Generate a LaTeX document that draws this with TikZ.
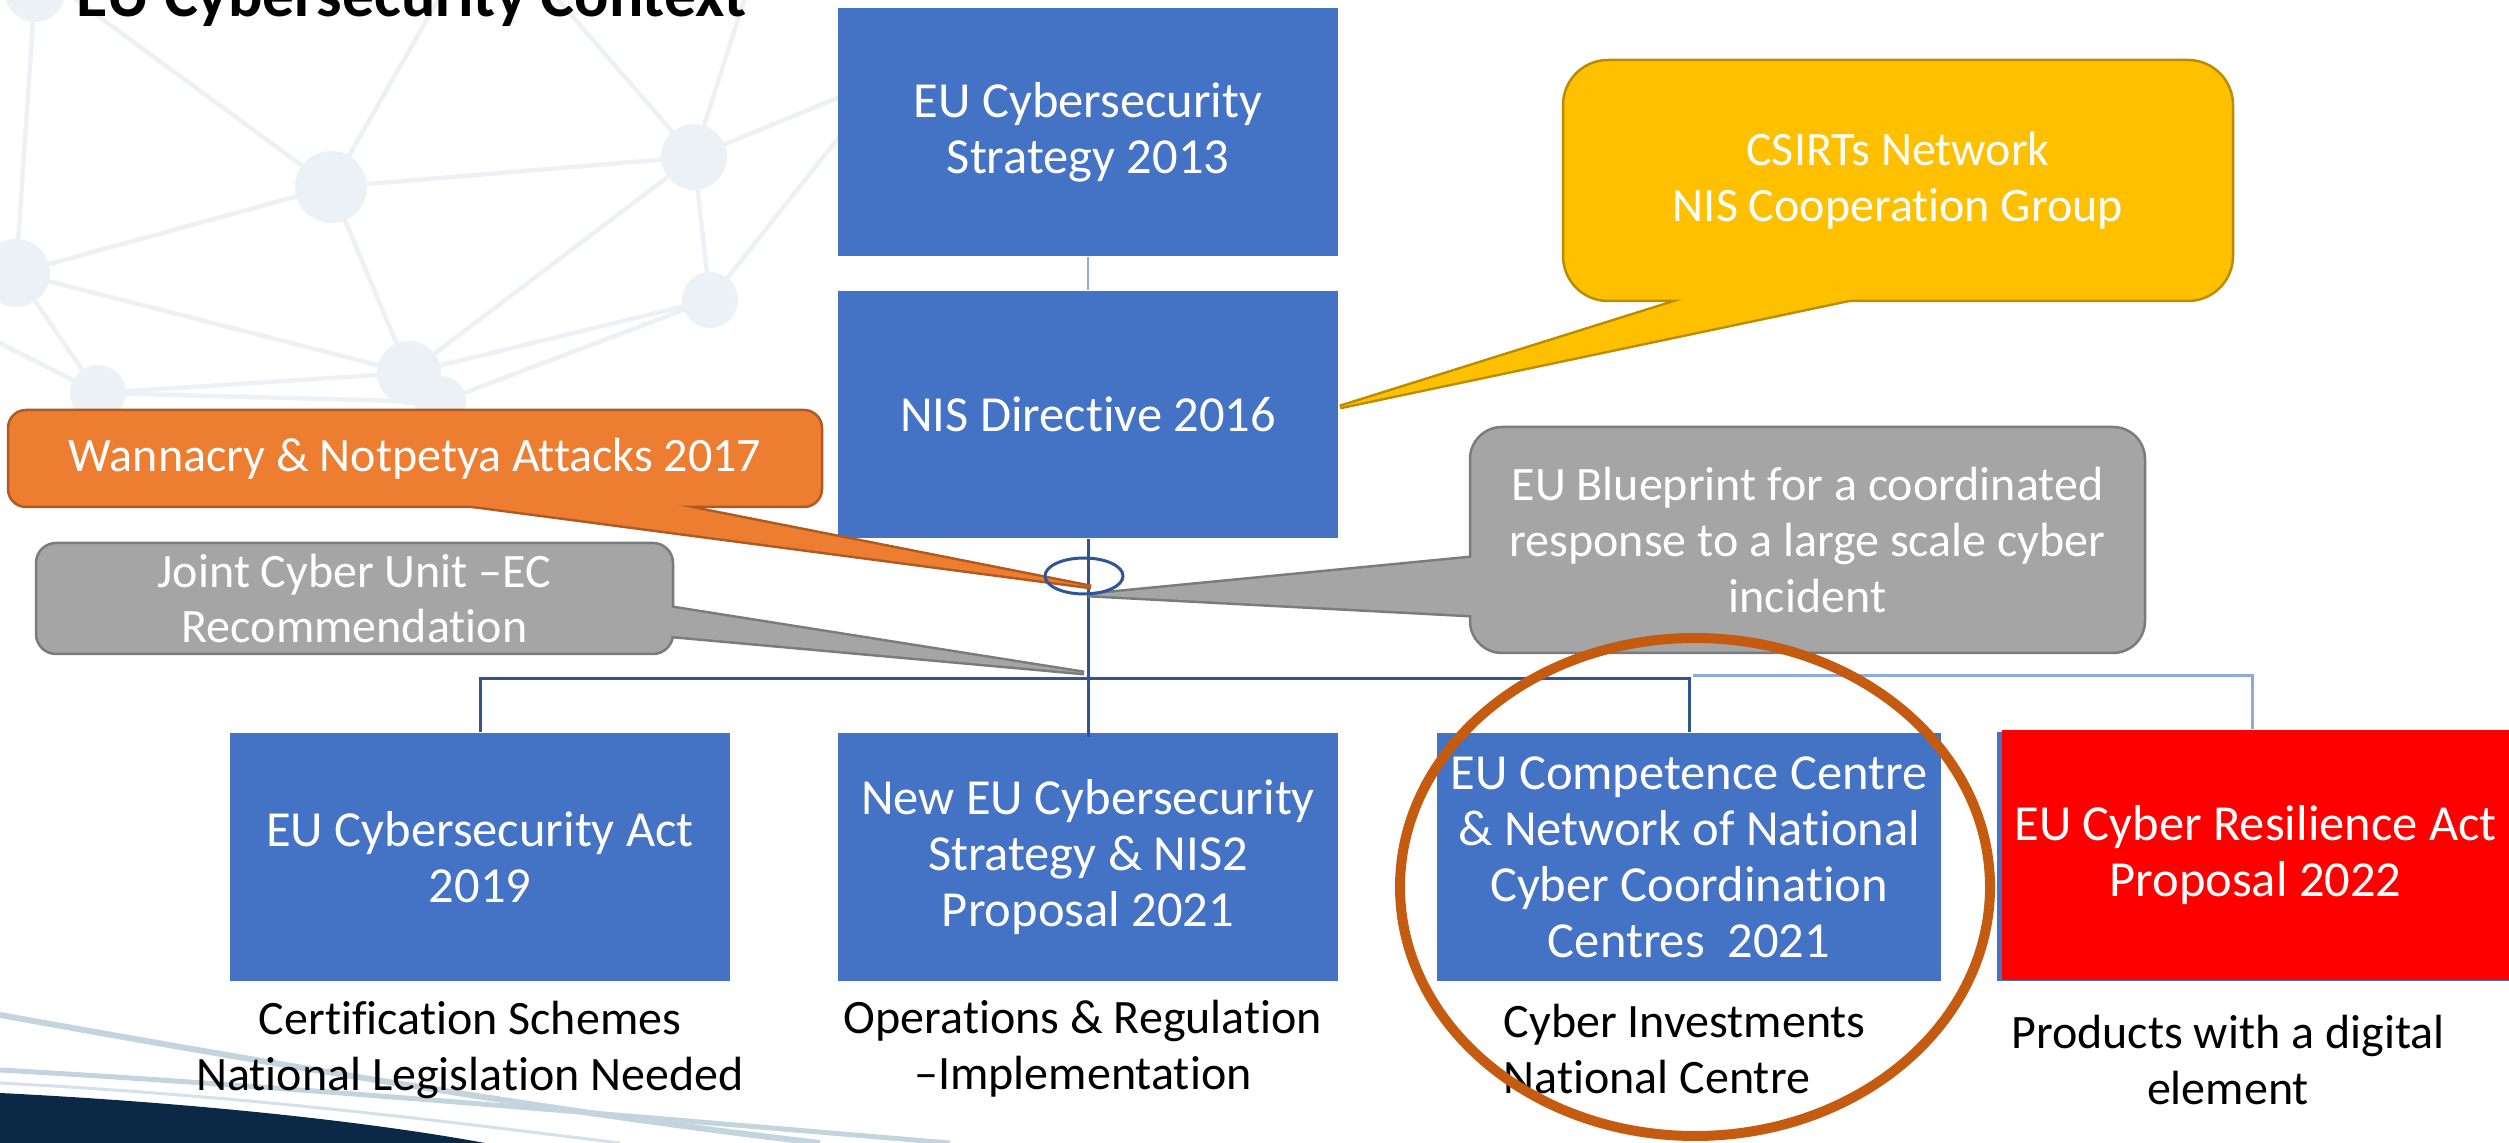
\documentclass[tikz,border=0pt]{standalone}
\usepackage{fontspec}
\setmainfont{Carlito}[Ligatures=NoCommon]
\usetikzlibrary{calc}
\definecolor{boxblue}{HTML}{4472C4}
\definecolor{lineblue}{HTML}{2F5597}
\definecolor{lightline}{HTML}{8FAADC}
\definecolor{orangeF}{HTML}{ED7D31}
\definecolor{orangeD}{HTML}{AE5A21}
\definecolor{greyF}{HTML}{A5A5A5}
\definecolor{greyD}{HTML}{7B7B7B}
\definecolor{yellowF}{HTML}{FFC000}
\definecolor{yellowD}{HTML}{BC8C00}
\definecolor{ringC}{HTML}{C55A11}
\definecolor{netC}{HTML}{EBF1F5}
\definecolor{navy}{HTML}{0B2846}
\definecolor{swooshC}{HTML}{C3D4DF}
\begin{document}
\begin{tikzpicture}[x=0.1mm,y=-0.1mm,
  txt/.style={font=\fontsize{13.66}{15.9}\selectfont, align=center, inner sep=0pt},
  boxtxt/.style={font=\fontsize{14.37}{15.9}\selectfont, align=center, inner sep=0pt},
  bluebox/.style={boxtxt, text=white, fill=boxblue, minimum width=50mm, minimum height=24.8mm},
  caption/.style={txt, text=black},
  callout/.style={txt, text=white, line width=0.25mm},
  ptrO/.style={line width=0.5mm, line join=miter},
  conn/.style={draw=lineblue, line width=0.3mm},
  connL/.style={draw=lightline, line width=0.3mm},
  netline/.style={draw=netC, line width=0.45mm}
]
\useasboundingbox (0,0) rectangle (2509,1143);

% ---------- background network ----------
\coordinate (n0) at (35,-8);
\coordinate (n1) at (331,187);
\coordinate (n2) at (694,157);
\coordinate (n3) at (16,273);
\coordinate (n4) at (710,300);
\coordinate (n5) at (409,373);
\coordinate (n6) at (98,393);
\coordinate (n7) at (440,402);
\draw[netline] (n0) -- (n3);
\draw[netline] (60,-12) -- (n1);
\draw[netline] (445,-12) -- (n1);
\draw[netline] (548,-12) -- (n2);
\draw[netline] (748,-12) -- (n2);
\draw[netline] (900,72) -- (n2);
\draw[netline] (900,60) -- (n4);
\draw[netline] (-10,338) -- (n6);
\draw[netline] (n1) -- (n2);
\draw[netline] (n1) -- (n3);
\draw[netline] (n1) -- (n5);
\draw[netline] (n2) -- (n4);
\draw[netline] (n2) -- (n5);
\draw[netline] (n3) -- (n5);
\draw[netline] (n3) -- (n6);
\draw[netline] (n6) -- (n5);
\draw[netline] (n4) -- (n5);
\draw[netline] (n4) -- (n7);
\draw[netline] (n6) -- (n7);
\fill[netC] (n0) circle[radius=3mm];
\fill[netC] (n1) circle[radius=3.6mm];
\fill[netC] (n2) circle[radius=3.3mm];
\fill[netC] (n3) circle[radius=3.4mm];
\fill[netC] (n4) circle[radius=2.8mm];
\fill[netC] (n5) circle[radius=3.2mm];
\fill[netC] (n6) circle[radius=2.8mm];
\fill[netC] (n7) circle[radius=2.6mm];

% ---------- bottom-left swoosh ----------
\draw[swooshC, line width=0.6mm] (0,1015) .. controls (250,1060) and (550,1112) .. (820,1143);
\draw[swooshC, line width=0.5mm] (0,1070) .. controls (300,1087) and (650,1118) .. (950,1143);
\draw[swooshC!70, line width=0.3mm] (0,1083) .. controls (250,1096) and (450,1122) .. (620,1143);
\fill[navy] (0,1093) .. controls (180,1102) and (360,1120) .. (485,1143) -- (0,1143) -- cycle;

% ---------- title ----------
\node[anchor=base west, inner sep=0pt, font=\bfseries\fontsize{18.2}{20}\selectfont] (title) at (76,17) {EU Cybersecurity Context};

% ---------- boxes ----------
\node[bluebox] (s2013) at (1088,132) {EU Cybersecurity\\Strategy 2013};
\node[bluebox, minimum height=24.7mm] (nis) at (1088,414.5) {NIS Directive 2016};
\node[bluebox] (act) at (480,857) {EU Cybersecurity Act\\2019};
\node[bluebox] (nis2) at (1088,857) {New EU Cybersecurity\\Strategy \& NIS2\\Proposal 2021};
\node[bluebox, minimum width=50.4mm] (ecc) at (1689,857) {EU Competence Centre\\\& Network of National\\Cyber Coordination\\Centres~~2021};
\fill[boxblue] (1997,732) rectangle (2509,981);
\node[bluebox, fill=red, minimum width=50.7mm, minimum height=25mm] (cra) at (2255.5,855) {EU Cyber Resilience Act\\Proposal 2022};

% ---------- connectors ----------
\coordinate (bus) at (1088,679);
\coordinate (busR) at (1693,676);
\draw[connL, line width=0.2mm] (s2013.south) -- (nis.north);
\draw[conn] (nis.south) -- ($(nis2.north)+(0,5)$);
\draw[conn] (act.north) |- (bus) -| (ecc.north);
\draw[connL] (busR) -| ($(cra.north)+(-3,0)$);

% ---------- captions ----------
\node[caption] (cap1) at (470,1050) {Certification Schemes\\National Legislation Needed};
\node[caption] (cap2) at (1083,1049) {Operations \& Regulation\\–Implementation};
\node[caption, anchor=west, align=left] (cap3) at (1503,1049) {Cyber Investments\\National Centre};
\node[caption] (cap4) at (2228,1060) {Products with a digital\\element};

% ---------- callouts ----------
% Orange
\coordinate (wT) at (1091,587);
\coordinate (wB1) at (482,507);
\coordinate (wB2) at (686,507);
\filldraw[ptrO, fill=orangeF, draw=orangeD] (wT) -- ($(wT)!1.05!(wB1)$) -- ($(wT)!1.05!(wB2)$) -- cycle;
\node[callout, fill=orangeF, draw=orangeD, rounded corners=1.8mm, minimum width=81.4mm, minimum height=9.7mm] (wanna) at (415,458.5) {Wannacry \& Notpetya Attacks 2017};
\fill[orangeF] (wT) -- ($(wT)!1.05!(wB1)$) -- ($(wT)!1.05!(wB2)$) -- cycle;

% Joint Cyber Unit
\coordinate (jT) at (1084,673);
\coordinate (jB1) at (673,608);
\coordinate (jB2) at (673,636);
\filldraw[ptrO, fill=greyF, draw=greyD] (jT) -- ($(jT)!1.05!(jB1)$) -- ($(jT)!1.05!(jB2)$) -- cycle;
\node[callout, fill=greyF, draw=greyD, rounded corners=2mm, minimum width=63.7mm, minimum height=11.1mm] (joint) at (354.5,598.5) {Joint Cyber Unit –EC\\Recommendation};
\fill[greyF] (jT) -- ($(jT)!1.05!(jB1)$) -- ($(jT)!1.05!(jB2)$) -- cycle;

% Blueprint
\coordinate (bT) at (1088,595);
\coordinate (bB1) at (1470,558);
\coordinate (bB2) at (1470,615);
\filldraw[ptrO, fill=greyF, draw=greyD] (bT) -- ($(bT)!1.05!(bB1)$) -- ($(bT)!1.05!(bB2)$) -- cycle;
\node[callout, fill=greyF, draw=greyD, rounded corners=3.2mm, minimum width=67.5mm, minimum height=22.6mm] (blue) at (1807.5,540) {EU Blueprint for a coordinated\\response to a large scale cyber\\incident};
\fill[greyF] (bT) -- ($(bT)!1.05!(bB1)$) -- ($(bT)!1.05!(bB2)$) -- cycle;

% Yellow
\coordinate (yT) at (1340,407);
\coordinate (yB1) at (1678,301);
\coordinate (yB2) at (1843,301);
\filldraw[ptrO, fill=yellowF, draw=yellowD] (yT) -- ($(yT)!1.05!(yB1)$) -- ($(yT)!1.05!(yB2)$) -- cycle;
\node[callout, fill=yellowF, draw=yellowD, rounded corners=4.5mm, minimum width=67mm, minimum height=24.1mm] (csirt) at (1898,180.5) {CSIRTs Network\\NIS Cooperation Group};
\fill[yellowF] (yT) -- ($(yT)!1.05!(yB1)$) -- ($(yT)!1.05!(yB2)$) -- cycle;

% ---------- highlight ellipses ----------
\draw[lineblue, line width=0.3mm] (1084,576) ellipse[x radius=3.9mm, y radius=1.8mm];
\draw[ringC, line width=1mm] (1695,887) ellipse[x radius=29.5mm, y radius=24.9mm];
\end{tikzpicture}
\end{document}
